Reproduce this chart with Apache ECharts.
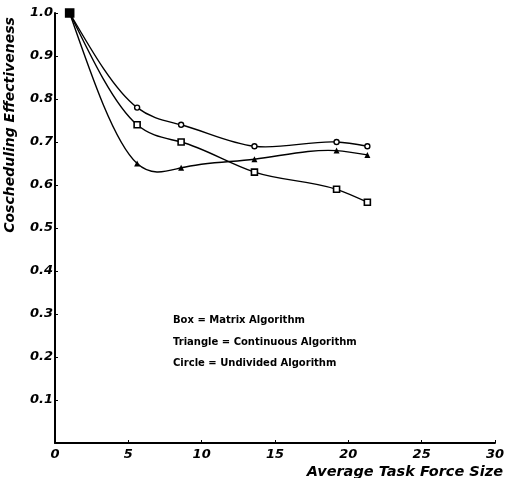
<!DOCTYPE html>
<html><head><meta charset="utf-8">
<script src="https://cdn.jsdelivr.net/npm/echarts@6/dist/echarts.min.js"></script>
<style>html,body{margin:0;padding:0;background:#fff}#c{width:507px;height:478px}</style>
</head><body><div id="c"></div>
<script>
const taskSize = [1, 5.6, 8.6, 13.6, 19.2, 21.3];
const matrixBox = [1.0, 0.74, 0.70, 0.63, 0.59, 0.56];
const continuousTriangle = [1.0, 0.65, 0.64, 0.66, 0.68, 0.67];
const undividedCircle = [1.0, 0.78, 0.74, 0.69, 0.70, 0.69];
const legendLines = ['Box = Matrix Algorithm', 'Triangle = Continuous Algorithm', 'Circle = Undivided Algorithm'];
const yTitle = 'Coscheduling Effectiveness';
const xTitle = 'Average Task Force Size';

const pairs = arr => taskSize.map((x, i) => [x, arr[i]]);
const font = '"DejaVu Sans", "Liberation Sans", sans-serif';
const lab = { color: '#000', fontFamily: font, fontStyle: 'italic', fontWeight: 'bold', fontSize: 13 };

// natural cubic spline through the data points, in pixel space from the chart's own axes (api.coord)
function splineSeries(name, arr) {
  const data = pairs(arr);
  return {
    name: name, type: 'custom', data: data, z: 2,
    renderItem: function (params, api) {
      if (params.dataIndex !== 0) return null;
      const p = data.map(d => api.coord(d));
      const n = p.length;
      const x = p.map(q => q[0]), y = p.map(q => q[1]);
      const h = [];
      for (let i = 0; i < n - 1; i++) h.push(x[i + 1] - x[i]);
      // solve for second derivatives M (natural: M0 = Mn-1 = 0)
      const a = new Array(n).fill(0), b = new Array(n).fill(1), c = new Array(n).fill(0), r = new Array(n).fill(0);
      for (let i = 1; i < n - 1; i++) {
        a[i] = h[i - 1]; b[i] = 2 * (h[i - 1] + h[i]); c[i] = h[i];
        r[i] = 6 * ((y[i + 1] - y[i]) / h[i] - (y[i] - y[i - 1]) / h[i - 1]);
      }
      for (let i = 1; i < n; i++) {
        const m = a[i] / b[i - 1];
        b[i] -= m * c[i - 1]; r[i] -= m * r[i - 1];
      }
      const M = new Array(n).fill(0);
      M[n - 1] = r[n - 1] / b[n - 1];
      for (let i = n - 2; i >= 0; i--) M[i] = (r[i] - c[i] * M[i + 1]) / b[i];
      let path = 'M' + x[0] + ' ' + y[0];
      for (let i = 0; i < n - 1; i++) {
        const s = (y[i + 1] - y[i]) / h[i];
        const d0 = s - h[i] * (2 * M[i] + M[i + 1]) / 6;
        const d1 = s + h[i] * (M[i] + 2 * M[i + 1]) / 6;
        const c1 = [x[i] + h[i] / 3, y[i] + d0 * h[i] / 3];
        const c2 = [x[i + 1] - h[i] / 3, y[i + 1] - d1 * h[i] / 3];
        path += ' C' + c1[0] + ' ' + c1[1] + ' ' + c2[0] + ' ' + c2[1] + ' ' + x[i + 1] + ' ' + y[i + 1];
      }
      return { type: 'path', shape: { pathData: path }, style: { fill: null, stroke: '#000', lineWidth: 1.4 } };
    }
  };
}

const chart = echarts.init(document.getElementById('c'), null, { renderer: 'canvas' });
chart.setOption({
  animation: false,
  backgroundColor: '#fff',
  grid: { left: 55, right: 12, top: 13, bottom: 35 },
  xAxis: {
    type: 'value', min: 0, max: 30, interval: 5,
    axisLine: { lineStyle: { color: '#000', width: 2 } },
    axisTick: { inside: true, length: 3, lineStyle: { color: '#000' } },
    axisLabel: Object.assign({ margin: 5 }, lab),
    splitLine: { show: false }
  },
  yAxis: {
    type: 'value', min: 0, max: 1, interval: 0.1,
    axisLine: { lineStyle: { color: '#000', width: 2 } },
    axisTick: { inside: true, length: 3, lineStyle: { color: '#000' } },
    axisLabel: Object.assign({ margin: 2, formatter: v => v === 0 ? '' : v.toFixed(1) }, lab),
    splitLine: { show: false }
  },
  graphic: [
    { type: 'text', x: 10, y: 125, rotation: Math.PI / 2,
      style: { text: yTitle, fill: '#000', font: 'italic bold 14px ' + font, align: 'center', verticalAlign: 'middle' } },
    { type: 'text', x: 503, y: 472,
      style: { text: xTitle, fill: '#000', font: 'italic bold 14.5px ' + font, align: 'right', verticalAlign: 'middle' } },
    { type: 'text', x: 173, y: 320, style: { text: legendLines[0], fill: '#000', font: 'bold 10px ' + font, verticalAlign: 'middle' } },
    { type: 'text', x: 173, y: 342, style: { text: legendLines[1], fill: '#000', font: 'bold 10px ' + font, verticalAlign: 'middle' } },
    { type: 'text', x: 173, y: 363, style: { text: legendLines[2], fill: '#000', font: 'bold 10px ' + font, verticalAlign: 'middle' } }
  ],
  series: [
    splineSeries('Matrix line', matrixBox),
    splineSeries('Continuous line', continuousTriangle),
    splineSeries('Undivided line', undividedCircle),
    { name: 'Continuous', type: 'scatter', data: pairs(continuousTriangle), symbol: 'triangle', symbolSize: 6, z: 3,
      itemStyle: { color: '#000', opacity: 1 } },
    { name: 'Undivided', type: 'scatter', data: pairs(undividedCircle), symbol: 'circle', symbolSize: 5, z: 3,
      itemStyle: { color: '#fff', borderColor: '#000', borderWidth: 1.4, opacity: 1 } },
    { name: 'Matrix', type: 'scatter', symbol: 'rect', symbolSize: 6, z: 4,
      data: pairs(matrixBox).map((d, i) => i === 0 ? { value: d, symbolSize: 8, itemStyle: { color: '#000' } } : d),
      itemStyle: { color: '#fff', borderColor: '#000', borderWidth: 1.6, opacity: 1 } }
  ]
});
</script></body></html>
